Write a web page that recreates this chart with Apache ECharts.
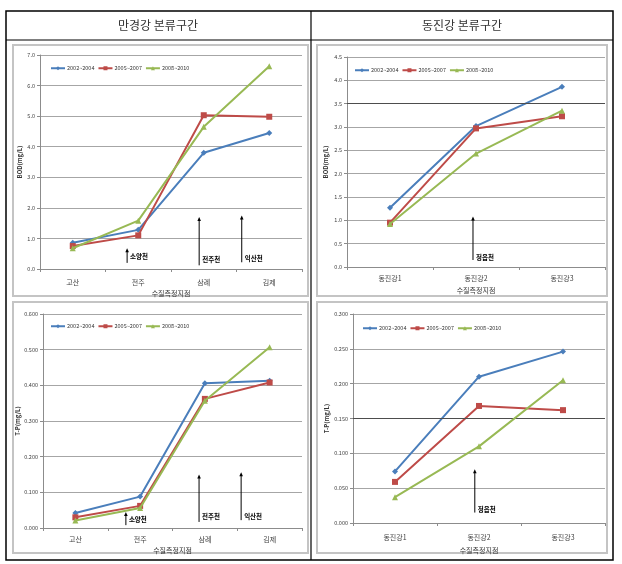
<!DOCTYPE html>
<html><head><meta charset="utf-8">
<script src="https://cdn.jsdelivr.net/npm/echarts@6/dist/echarts.min.js"></script>
<style>html,body{margin:0;padding:0;background:#fff}#c{width:622px;height:564px}</style>
</head><body><div id="c"></div>
<script>
// ---- data ----
const seriesNames = ['2002~2004', '2005~2007', '2008~2010'];
const headers = ['만경강 본류구간', '동진강 본류구간'];
const mgCats = ['고산', '전주', '삼례', '김제'];
const djCats = ['동진강1', '동진강2', '동진강3'];
const xName = '수질측정지점';
const bodName = 'BOD(mg/L)';
const tpName = 'T-P(mg/L)';

const mgBOD0204 = [0.86, 1.28, 3.80, 4.45];
const mgBOD0507 = [0.75, 1.10, 5.03, 4.98];
const mgBOD0810 = [0.68, 1.58, 4.65, 6.63];

const djBOD0204 = [1.27, 3.02, 3.86];
const djBOD0507 = [0.95, 2.97, 3.23];
const djBOD0810 = [0.92, 2.43, 3.35];

const mgTP0204 = [0.042, 0.088, 0.406, 0.413];
const mgTP0507 = [0.030, 0.062, 0.362, 0.408];
const mgTP0810 = [0.021, 0.056, 0.357, 0.507];

const djTP0204 = [0.074, 0.210, 0.246];
const djTP0507 = [0.059, 0.168, 0.162];
const djTP0810 = [0.037, 0.110, 0.205];

const djBODRef = 3.5;
const djTPRef = 0.150;

const mgTribs = ['소양천', '전주천', '익산천'];
const djTribs = ['정읍천'];

// ---- styles ----
const FONT = "'Noto Sans CJK KR', 'Noto Sans', sans-serif";
const colors = ['#4A7EBB', '#BE4B48', '#98B954'];
const symbols = ['diamond', 'rect', 'triangle'];
const symSizes = [6, 6, 6];

const panels = [
  {grid: {left: 40, top: 55, width: 262, height: 214}, cats: mgCats, data: [mgBOD0204, mgBOD0507, mgBOD0810],
   min: 0, max: 7, interval: 1, dec: 1, yName: bodName, yGap: 17, xGap: 21, labMargin: 10, legend: {left: 50, top: 65.5}},
  {grid: {left: 347, top: 57, width: 258, height: 210}, cats: djCats, data: [djBOD0204, djBOD0507, djBOD0810],
   min: 0, max: 4.5, interval: 0.5, dec: 1, yName: bodName, yGap: 18, xGap: 20, labMargin: 8, legend: {left: 354, top: 67.5}, ref: djBODRef},
  {grid: {left: 43, top: 314, width: 259, height: 214}, cats: mgCats, data: [mgTP0204, mgTP0507, mgTP0810],
   min: 0, max: 0.6, interval: 0.1, dec: 3, yName: tpName, yGap: 20, xGap: 19, labMargin: 8, legend: {left: 50, top: 323.5}},
  {grid: {left: 353, top: 314, width: 252, height: 209}, cats: djCats, data: [djTP0204, djTP0507, djTP0810],
   min: 0, max: 0.3, interval: 0.05, dec: 3, yName: tpName, yGap: 23, xGap: 24, labMargin: 11, legend: {left: 362, top: 325.5}, ref: djTPRef}
];

const option = {
  animation: false,
  textStyle: {fontFamily: FONT},
  grid: [], xAxis: [], yAxis: [], series: [], legend: []
};

panels.forEach((p, i) => {
  option.grid.push(Object.assign({containLabel: false}, p.grid));
  option.xAxis.push({
    type: 'category', gridIndex: i, data: p.cats, boundaryGap: true,
    name: xName, nameLocation: 'middle', nameGap: p.xGap,
    nameTextStyle: {fontSize: 7, color: '#333'},
    axisLine: {lineStyle: {color: '#8c8c8c', width: 1}},
    axisTick: {show: true, interval: 0, length: 3, lineStyle: {color: '#8c8c8c'}},
    axisLabel: {fontSize: 7, color: '#404040', margin: p.labMargin, interval: 0},
    splitLine: {show: false}
  });
  option.yAxis.push({
    type: 'value', gridIndex: i, min: p.min, max: p.max, interval: p.interval,
    name: p.yName, nameLocation: 'middle', nameGap: p.yGap, nameRotate: 90,
    nameTextStyle: {fontSize: 6, fontWeight: 'bold', color: '#333'},
    axisLine: {show: true, lineStyle: {color: '#8c8c8c', width: 1}},
    axisTick: {show: true, length: 3, lineStyle: {color: '#8c8c8c'}},
    axisLabel: {fontSize: 5.5, color: '#404040', margin: 5, formatter: v => v.toFixed(p.dec)},
    splitLine: {show: true, lineStyle: {color: '#a6a6a6', width: 1}}
  });
  p.data.forEach((d, k) => {
    const s = {
      type: 'line', name: seriesNames[k], xAxisIndex: i, yAxisIndex: i, data: d,
      symbol: symbols[k], symbolSize: symSizes[k], z: 3 + k,
      lineStyle: {color: colors[k], width: 2},
      itemStyle: {color: colors[k]}
    };
    if (k === 0 && p.ref !== undefined) {
      s.markLine = {silent: true, symbol: ['none', 'none'], label: {show: false},
        lineStyle: {color: '#4d4d4d', width: 1, type: 'solid'}, data: [{yAxis: p.ref}]};
    }
    option.series.push(s);
  });
  option.legend.push({
    left: p.legend.left, top: p.legend.top, orient: 'horizontal', padding: 0,
    itemWidth: 14, itemHeight: 5, itemGap: 3,
    textStyle: {fontSize: 5.5, color: '#333', padding: [0, 0, 0, -3]},
    data: seriesNames.map(n => ({name: n})),
    selectedMode: false
  });
});

const chart = echarts.init(document.getElementById('c'), null, {renderer: 'canvas'});
chart.setOption(option);

// static graphics: table + chart frames + headers
const frameStyle = {fill: 'none', stroke: '#c4c4c4', lineWidth: 2};
const staticG = [
  {type: 'rect', shape: {x: 13, y: 45, width: 295, height: 251}, style: frameStyle, z: -1},
  {type: 'rect', shape: {x: 13, y: 302, width: 295, height: 251}, style: frameStyle, z: -1},
  {type: 'rect', shape: {x: 317, y: 45, width: 290, height: 251}, style: frameStyle, z: -1},
  {type: 'rect', shape: {x: 317, y: 302, width: 290, height: 251}, style: frameStyle, z: -1},
  {type: 'rect', shape: {x: 6, y: 11, width: 607, height: 549}, style: {fill: 'none', stroke: '#000', lineWidth: 1.5}},
  {type: 'line', shape: {x1: 6, y1: 40, x2: 613, y2: 40}, style: {stroke: '#000', lineWidth: 1.2}},
  {type: 'line', shape: {x1: 311, y1: 11, x2: 311, y2: 560}, style: {stroke: '#000', lineWidth: 1.2}},
  {type: 'text', style: {text: headers[0], x: 158, y: 25.5, align: 'center', verticalAlign: 'middle',
    font: '12px ' + FONT, fill: '#333'}},
  {type: 'text', style: {text: headers[1], x: 462, y: 25.5, align: 'center', verticalAlign: 'middle',
    font: '12px ' + FONT, fill: '#333'}}
];

// annotations placed through the axes (x as fractional category position, y as axis value)
const annots = [
  {panel: 0, label: mgTribs[0], xf: 0.83, y0: 0.2, y1: 0.68, yt: 0.42},
  {panel: 0, label: mgTribs[1], xf: 1.93, y0: 0.12, y1: 1.7, yt: 0.3},
  {panel: 0, label: mgTribs[2], xf: 2.58, y0: 0.22, y1: 1.75, yt: 0.33},
  {panel: 1, label: djTribs[0], xf: 0.965, y0: 0.15, y1: 1.08, yt: 0.2},
  {panel: 2, label: mgTribs[0], xf: 0.78, y0: 0.008, y1: 0.045, yt: 0.023},
  {panel: 2, label: mgTribs[1], xf: 1.91, y0: 0.017, y1: 0.15, yt: 0.032},
  {panel: 2, label: mgTribs[2], xf: 2.56, y0: 0.022, y1: 0.156, yt: 0.032},
  {panel: 3, label: djTribs[0], xf: 0.95, y0: 0.015, y1: 0.077, yt: 0.019}
];
const annG = [];
annots.forEach(a => {
  const c0 = chart.convertToPixel({xAxisIndex: a.panel}, 0);
  const c1 = chart.convertToPixel({xAxisIndex: a.panel}, 1);
  const x = c0 + a.xf * (c1 - c0);
  const yb = chart.convertToPixel({yAxisIndex: a.panel}, a.y0);
  const yt = chart.convertToPixel({yAxisIndex: a.panel}, a.y1);
  const ytx = chart.convertToPixel({yAxisIndex: a.panel}, a.yt);
  annG.push({type: 'line', shape: {x1: x, y1: yb, x2: x, y2: yt + 3}, style: {stroke: '#000', lineWidth: 1}, z: 10});
  annG.push({type: 'polygon', shape: {points: [[x - 1.8, yt + 4], [x + 1.8, yt + 4], [x, yt]]}, style: {fill: '#000'}, z: 10});
  annG.push({type: 'text', style: {text: a.label, x: x + 3, y: ytx, align: 'left', verticalAlign: 'middle',
    font: 'bold 6.5px ' + FONT, fill: '#000'}, z: 10});
});
chart.setOption({graphic: staticG.concat(annG)});
</script>
</body></html>
